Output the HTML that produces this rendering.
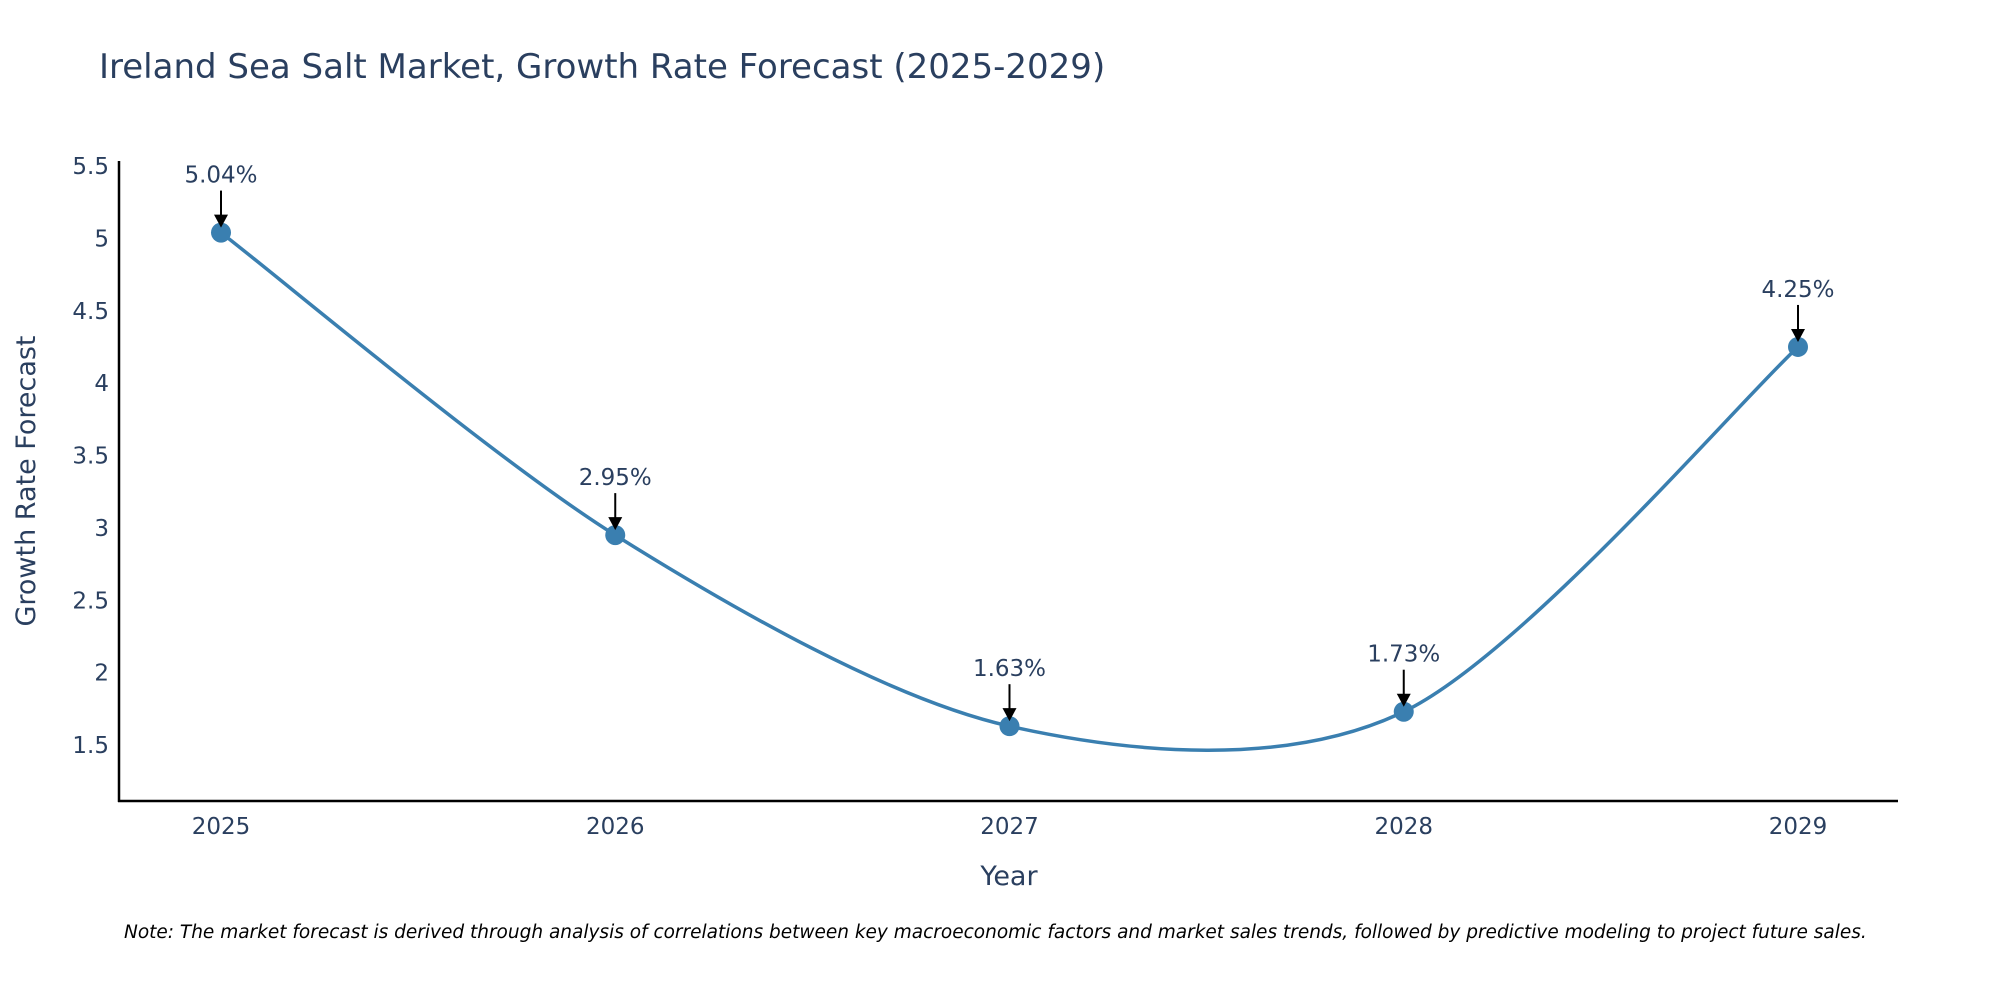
<!DOCTYPE html>
<html><head><meta charset="utf-8"><style>
body{margin:0;background:#fff;}
svg text{font-family:"DejaVu Sans","Liberation Sans",sans-serif;fill:#2a3f5f;}
</style></head><body>
<svg id="chart" width="2000" height="1000" xmlns="http://www.w3.org/2000/svg">
<rect width="2000" height="1000" fill="#fff"/>
<text x="99" y="78" font-size="34">Ireland Sea Salt Market, Growth Rate Forecast (2025-2029)</text>
<g id="axes"></g>
<g id="plot"></g>
<text transform="translate(35,481) rotate(-90)" text-anchor="middle" font-size="27">Growth Rate Forecast</text>
<text x="1009" y="885" text-anchor="middle" font-size="27">Year</text>
<text x="124" y="938" font-size="18.5" font-style="italic" style="fill:#000">Note: The market forecast is derived through analysis of correlations between key macroeconomic factors and market sales trends, followed by predictive modeling to project future sales.</text>
</svg>
<script>
const years=[2025,2026,2027,2028,2029];
const values=[5.04,2.95,1.63,1.73,4.25];
const labels=["5.04%","2.95%","1.63%","1.73%","4.25%"];
const yTicks=[1.5,2,2.5,3,3.5,4,4.5,5,5.5];
const NS="http://www.w3.org/2000/svg";
const x=v=>221+(v-2025)*394.25;
const y=v=>745-(v-1.5)*144.75;
function mk(tag,attrs,parent){const e=document.createElementNS(NS,tag);for(const k in attrs)e.setAttribute(k,attrs[k]);parent.appendChild(e);return e;}
const axes=document.getElementById('axes'),plot=document.getElementById('plot');
const yl=mk('line',{x1:119,y1:161,x2:119,y2:802,stroke:'#000','stroke-width':2.5},axes);


const xl=mk('line',{x1:118,y1:801,x2:1898,y2:801,stroke:'#000','stroke-width':2.5},axes);


yTicks.forEach(t=>{const tx=mk('text',{x:109,y:y(t)+8,'text-anchor':'end','font-size':23},axes);tx.textContent=String(t);

});
years.forEach(t=>{const tx=mk('text',{x:x(t),y:834,'text-anchor':'middle','font-size':23},axes);tx.textContent=String(t);

});
const pts=years.map((yr,i)=>[x(yr),y(values[i])]);
let d='M'+pts[0][0]+','+pts[0][1];
const s=0.15;
for(let i=0;i<pts.length-1;i++){const p0=pts[i-1]||pts[i],p1=pts[i],p2=pts[i+1],p3=pts[i+2]||pts[i+1];
const c1=[p1[0]+(p2[0]-p0[0])*s,p1[1]+(p2[1]-p0[1])*s],c2=[p2[0]-(p3[0]-p1[0])*s,p2[1]-(p3[1]-p1[1])*s];
d+=' C'+c1+' '+c2+' '+p2;}
const line=mk('path',{d:d,fill:'none',stroke:'#3a7fb0','stroke-width':3.5},plot);


pts.forEach((p,i)=>{const c=mk('circle',{cx:p[0],cy:p[1],r:10,fill:'#3a7fb0'},plot);


const a=mk('line',{x1:p[0],y1:p[1]-42,x2:p[0],y2:p[1]-14,stroke:'#000','stroke-width':2},plot);


const h=mk('polygon',{points:`${p[0]-7},${p[1]-18} ${p[0]+7},${p[1]-18} ${p[0]},${p[1]-5}`,fill:'#000'},plot);


const t=mk('text',{x:p[0],y:p[1]-50,'text-anchor':'middle','font-size':23},plot);t.textContent=labels[i];

});
</script>
</body></html>
